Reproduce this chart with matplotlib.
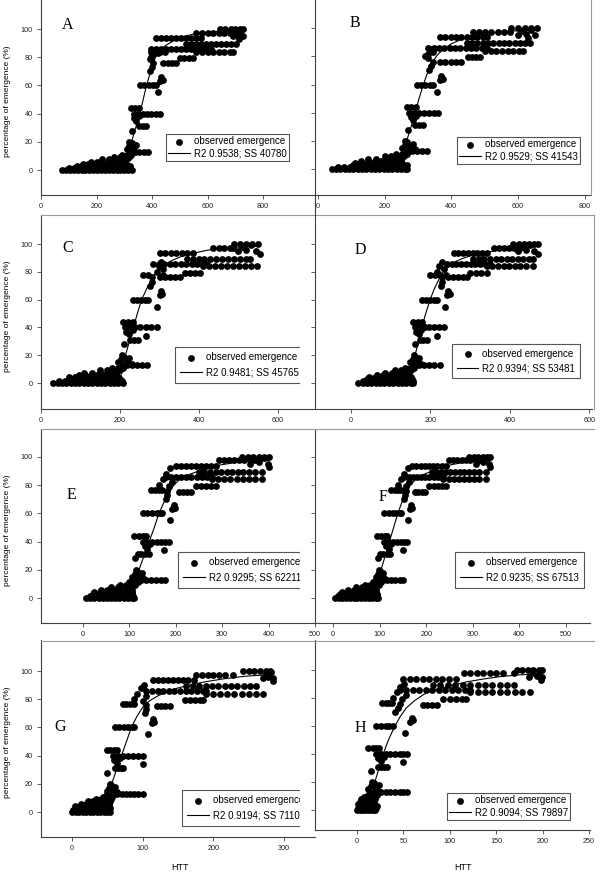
import matplotlib.pyplot as plt
from matplotlib.patches import Rectangle
from matplotlib.lines import Line2D

plt.rcParams['font.family'] = ['Liberation Sans', 'DejaVu Sans']

# ---------------- data ----------------
# each row: (percentage of emergence, [HTT of the dots on that level])

A_rows = [
    (0, [76, 90, 104, 118, 132, 146, 160, 174, 188, 202, 216, 230, 244, 258, 272, 286, 300, 314, 326]),
    (1.5, [100, 120, 140, 160, 180, 200, 220, 240, 260, 280, 300, 320]),
    (3, [130, 148, 166, 184, 202, 220, 238, 256, 274, 292, 310, 322]),
    (4.5, [150, 170, 190, 210, 230, 250, 270, 290, 305]),
    (6, [180, 200, 220, 240, 260, 280, 300]),
    (7.5, [220, 245, 270, 290, 308]),
    (9.5, [262, 285, 305, 318]),
    (11, [290, 310, 325]),
    (13, [322, 338, 354, 370, 386]),
    (31, [352, 366, 380]),
    (40, [334, 350, 366, 382, 398, 414, 428]),
    (44, [324, 340, 352]),
    (60, [356, 372, 388, 404, 416]),
    (76, [440, 456, 472, 488]),
    (79.5, [500, 516, 532, 548]),
    (84, [398, 414, 430, 446, 560, 580, 600, 620, 640, 660, 680, 692]),
    (86, [398, 416, 434, 452, 470, 488, 506, 524, 542, 560, 578, 596, 614]),
    (89.5, [524, 542, 560, 578, 596, 614, 632, 650, 668, 686, 704]),
    (93.5, [416, 434, 452, 470, 488, 506, 524, 542, 560, 578]),
    (97.5, [560, 580, 600, 620, 640, 660, 680]),
    (100, [644, 664, 684, 700, 716, 728]),
]
A_pts = [(310, 15), (318, 17), (326, 19), (334, 16), (342, 18), (318, 20), (330, 14), (326, 28),
         (336, 37), (344, 35), (352, 38), (422, 55), (428, 63), (432, 66), (440, 64), (394, 70),
         (400, 73), (404, 76), (392, 79), (398, 80), (404, 82), (410, 85), (420, 83),
         (690, 95), (700, 98), (710, 96), (720, 99), (728, 95), (712, 93)]
A_fit_x = [305, 315, 326, 341, 356, 368, 380, 395, 410, 428, 450, 480, 510, 550, 600, 650, 730]
A_fit_y = [2, 10, 20, 30, 40, 50, 60, 70, 79, 85, 88.5, 92, 94.5, 96.5, 97.8, 98.6, 99]

B_rows = [
    (0, [41, 54, 67, 80, 93, 106, 119, 132, 145, 158, 171, 184, 197, 210, 223, 236, 249, 262, 268]),
    (1.5, [60, 78, 96, 114, 132, 150, 168, 186, 204, 222, 240, 258]),
    (3, [106, 122, 138, 154, 170, 186, 202, 218, 234, 250, 266]),
    (4.5, [110, 128, 146, 164, 182, 200, 218, 236, 252]),
    (6, [130, 150, 170, 190, 210, 230, 250]),
    (7.5, [150, 175, 200, 225, 250]),
    (9.5, [200, 220, 240, 258]),
    (11, [235, 252, 268]),
    (13, [266, 281, 296, 311, 326]),
    (31, [292, 304, 316]),
    (40, [272, 287, 302, 317, 332, 347, 361]),
    (44, [266, 280, 294]),
    (60, [296, 309, 322, 335, 346]),
    (76, [366, 382, 398, 414, 430]),
    (79.5, [451, 463, 475, 487]),
    (84, [501, 518, 535, 552, 569, 586, 603, 616]),
    (86, [331, 347, 363, 379, 395, 411, 427, 443, 459, 475, 491, 506]),
    (89.5, [446, 462, 478, 494, 510, 526, 542, 558, 574, 590, 606, 622, 636]),
    (93.5, [366, 382, 398, 414, 430, 446, 462, 478, 494, 506]),
    (97.5, [466, 484, 502, 520, 540, 558, 576]),
    (100, [580, 600, 620, 640, 656]),
]
B_pts = [(252, 15), (260, 17), (268, 19), (276, 16), (284, 18), (262, 20), (290, 14), (271, 28),
         (278, 37), (286, 35), (294, 38), (356, 55), (366, 63), (370, 66), (376, 64), (334, 70),
         (340, 73), (344, 76), (330, 79), (322, 80), (330, 82), (336, 85), (346, 83),
         (600, 95), (612, 98), (625, 96), (638, 99), (650, 95), (630, 93)]
B_fit_x = [250, 258, 266, 279, 291, 303, 316, 328, 341, 358, 376, 400, 430, 470, 520, 580, 645]
B_fit_y = [2, 10, 20, 30, 40, 50, 60, 68, 75, 81, 85, 89, 92, 94.5, 96.5, 98, 98.7]

C_rows = [
    (0, [31, 42, 53, 64, 75, 86, 97, 108, 119, 130, 141, 152, 163, 174, 185, 196, 208]),
    (1.5, [45, 61, 77, 93, 109, 125, 141, 157, 173, 189, 205]),
    (3, [82, 95, 108, 121, 134, 147, 160, 173, 186, 200]),
    (4.5, [70, 86, 102, 118, 134, 150, 166, 182, 196]),
    (6, [95, 111, 127, 143, 159, 175, 190]),
    (7.5, [110, 130, 150, 170, 190]),
    (9.5, [150, 168, 186, 200]),
    (11, [180, 195, 208]),
    (13, [204, 217, 230, 243, 256, 268]),
    (31, [226, 236, 246]),
    (40, [213, 226, 239, 252, 265, 279, 293]),
    (44, [208, 221, 234]),
    (60, [234, 244, 254, 264, 272]),
    (76, [301, 314, 327, 340, 352]),
    (79.5, [365, 377, 389, 402]),
    (84, [411, 426, 441, 456, 471, 486, 501, 516, 531, 546]),
    (86, [284, 298, 312, 326, 340, 354, 368, 382, 396, 410, 419]),
    (89.5, [369, 384, 399, 414, 429, 444, 459, 474, 489, 504, 519, 529]),
    (93.5, [301, 315, 329, 343, 357, 371, 386]),
    (97.5, [436, 450, 464, 478, 487]),
    (100, [490, 505, 520, 535, 550]),
]
C_pts = [(196, 15), (203, 17), (210, 19), (217, 16), (224, 18), (206, 20), (230, 14), (210, 28),
         (216, 37), (224, 35), (232, 38), (266, 34), (293, 55), (301, 63), (303, 66), (306, 64),
         (276, 70), (280, 73), (282, 76), (259, 78), (272, 78), (293, 80), (298, 84), (303, 87),
         (308, 82), (310, 78), (500, 95), (510, 98), (520, 96), (532, 99), (545, 95), (554, 93)]
C_fit_x = [200, 206, 213, 224, 234, 244, 255, 268, 281, 293, 310, 330, 355, 380, 420, 460, 510, 555]
C_fit_y = [2, 10, 19, 30, 40, 50, 60, 68, 75, 80, 84.5, 88, 91, 93, 95.5, 97, 98, 98.5]

D_rows = [
    (0, [18, 29, 40, 51, 62, 73, 84, 95, 106, 117, 128, 139, 150, 157]),
    (1.5, [30, 46, 62, 78, 94, 110, 126, 142, 155]),
    (3, [39, 52, 65, 78, 91, 104, 117, 130, 143, 153]),
    (4.5, [45, 60, 75, 90, 105, 120, 135, 150]),
    (6, [65, 81, 97, 113, 129, 145]),
    (7.5, [85, 103, 121, 139]),
    (9.5, [110, 125, 140, 152]),
    (11, [135, 148, 158]),
    (13, [157, 170, 183, 196, 210, 224]),
    (31, [174, 182, 190]),
    (40, [161, 173, 185, 197, 209, 221, 233]),
    (44, [157, 168, 178]),
    (60, [178, 188, 198, 208, 216]),
    (76, [245, 257, 269, 281, 291]),
    (79.5, [300, 314, 328, 342]),
    (84, [342, 356, 370, 384, 398, 412, 426, 440, 459]),
    (86, [241, 253, 265, 277, 289, 301, 313, 325, 337, 350]),
    (89.5, [308, 322, 336, 350, 364, 378, 392, 406, 420, 434, 448, 459]),
    (93.5, [258, 270, 282, 294, 306, 318, 330, 342]),
    (97.5, [359, 372, 385, 398, 411, 426]),
    (100, [409, 422, 435, 448, 460, 472]),
]
D_pts = [(149, 15), (155, 17), (161, 19), (167, 16), (172, 18), (158, 20), (176, 14), (160, 28),
         (164, 37), (170, 35), (176, 38), (216, 34), (237, 55), (241, 63), (244, 66), (248, 64),
         (226, 70), (228, 73), (230, 76), (199, 78), (212, 78), (224, 78), (216, 80), (222, 84),
         (228, 87), (234, 82), (240, 78), (420, 95), (430, 98), (440, 96), (450, 99), (462, 95), (470, 93)]
D_fit_x = [148, 154, 161, 170, 178, 188, 199, 210, 222, 233, 246, 260, 280, 300, 330, 360, 400, 440, 472]
D_fit_y = [2, 10, 20, 30, 40, 50, 60, 68, 75, 80, 84, 87, 89.5, 91.5, 93.5, 95, 96.5, 97.7, 98.3]

E_rows = [
    (0, [7, 16, 25, 34, 43, 52, 61, 70, 79, 88, 97, 106, 111]),
    (1.5, [15, 27, 39, 51, 63, 75, 87, 99, 108]),
    (3, [21, 32, 43, 54, 65, 76, 87, 98, 107]),
    (4.5, [25, 37, 49, 61, 73, 85, 97, 105]),
    (6, [40, 53, 66, 79, 92, 105]),
    (7.5, [60, 75, 90, 104]),
    (9.5, [80, 92, 104, 112]),
    (11, [100, 110, 118]),
    (12.5, [114, 125, 136, 147, 158, 169, 178]),
    (31, [118, 126, 134, 143]),
    (40, [129, 139, 149, 159, 169, 178, 186]),
    (44, [111, 120, 129, 136]),
    (60, [129, 139, 149, 159, 167, 171]),
    (76.5, [146, 155, 164, 171]),
    (75, [207, 215, 224, 232]),
    (79.5, [243, 254, 265, 276, 286]),
    (84, [279, 292, 305, 318, 331, 344, 357, 370, 386]),
    (86, [179, 190, 201, 212, 223, 234, 245, 256, 267, 279]),
    (89.5, [250, 262, 274, 286, 298, 310, 322, 334, 346, 358, 370, 386]),
    (93.5, [200, 211, 222, 233, 244, 255, 266, 277, 286]),
    (97.5, [293, 304, 315, 326, 337, 348, 364]),
    (100, [343, 355, 367, 379, 390, 400]),
]
E_pts = [(107, 15), (112, 17), (117, 19), (122, 16), (127, 18), (114, 20), (129, 14), (120, 12), (113, 28),
         (133, 37), (139, 35), (145, 38), (175, 34), (187, 55), (193, 63), (196, 66), (199, 64),
         (179, 70), (181, 73), (182, 76), (164, 80), (172, 84), (180, 88), (188, 92), (193, 82),
         (185, 79), (360, 95), (370, 98), (380, 96), (390, 99), (398, 95), (400, 93)]
E_fit_x = [108, 114, 121, 132, 143, 154, 164, 175, 187, 196, 207, 225, 250, 275, 300, 330, 365, 400]
E_fit_y = [2, 10, 20, 30, 40, 50, 60, 68, 75, 80, 83.5, 87, 90, 92.5, 94.5, 96, 97, 97.5]

F_rows = [
    (0, [4, 12, 20, 28, 36, 44, 52, 60, 68, 76, 84, 92, 97]),
    (1.5, [10, 21, 32, 43, 54, 65, 76, 87, 95]),
    (3, [15, 25, 35, 45, 55, 65, 75, 85, 94]),
    (4.5, [20, 31, 42, 53, 64, 75, 86, 93]),
    (6, [32, 44, 56, 68, 80, 92]),
    (7.5, [50, 63, 76, 90]),
    (9.5, [68, 79, 90, 98]),
    (11, [86, 95, 102]),
    (12.5, [98, 107, 116, 125, 134, 143, 151]),
    (31, [101, 108, 115, 122]),
    (40, [110, 119, 128, 137, 146, 153, 159]),
    (44, [95, 103, 111, 116]),
    (60, [110, 119, 128, 136, 143, 146]),
    (76.5, [124, 132, 140, 146]),
    (75, [176, 183, 190, 197]),
    (79.5, [207, 216, 225, 234, 243]),
    (84, [237, 248, 259, 270, 281, 292, 303, 314, 328]),
    (86, [153, 162, 171, 180, 189, 198, 207, 216, 225, 237]),
    (89.5, [212, 222, 232, 242, 252, 262, 272, 282, 292, 302, 314, 328]),
    (93.5, [170, 179, 188, 197, 206, 215, 224, 233, 243]),
    (97.5, [249, 258, 267, 276, 285, 294, 308]),
    (100, [292, 302, 312, 322, 330, 338]),
]
F_pts = [(92, 15), (96, 17), (100, 19), (104, 16), (108, 18), (98, 20), (110, 14), (102, 12), (97, 28),
         (114, 37), (119, 35), (124, 38), (150, 34), (160, 55), (165, 63), (168, 66), (170, 64),
         (153, 70), (155, 73), (156, 76), (140, 80), (146, 84), (153, 88), (160, 92), (164, 82),
         (157, 79), (306, 95), (314, 98), (322, 96), (330, 99), (336, 95), (338, 93)]
F_fit_x = [90, 96, 103, 112, 121, 130, 139, 148, 158, 166, 176, 191, 212, 233, 255, 280, 310, 338]
F_fit_y = [2, 10, 20, 30, 40, 50, 60, 68, 75, 80, 83.5, 87, 90, 92.5, 94.5, 96, 97, 97.5]

G_rows = [
    (0, [0, 5, 10, 15, 20, 25, 30, 35, 40, 45, 50, 54]),
    (1.5, [2, 9, 16, 23, 30, 37, 44, 51]),
    (3, [6, 12, 18, 24, 30, 36, 42, 48, 54]),
    (4.5, [4, 11, 18, 25, 32, 39, 46, 52]),
    (6, [12, 20, 28, 36, 44, 52]),
    (7.5, [22, 30, 38, 46, 54]),
    (9.5, [34, 41, 48, 55]),
    (11, [44, 50, 57]),
    (12.5, [58, 64, 70, 76, 82, 88, 94, 101]),
    (31, [61, 65, 69, 72]),
    (40, [58, 65, 72, 79, 86, 93, 101]),
    (44, [49, 54, 59, 63]),
    (60, [61, 67, 73, 79, 85, 88]),
    (76.5, [72, 77, 82, 87]),
    (75, [120, 126, 132, 139]),
    (79.5, [160, 167, 174, 181, 186]),
    (84, [190, 200, 210, 220, 230, 240, 250, 260, 270]),
    (86, [105, 113, 121, 129, 137, 145, 153, 161, 169, 177, 185, 190]),
    (89.5, [162, 171, 180, 189, 198, 207, 216, 225, 234, 243, 252, 261]),
    (93.5, [115, 122, 129, 136, 143, 150, 157, 164, 172]),
    (97.5, [176, 184, 192, 200, 208, 216, 228]),
    (100, [242, 250, 258, 266, 274, 280]),
]
G_pts = [(49, 15), (52, 17), (55, 19), (58, 16), (61, 18), (54, 20), (63, 14), (57, 12), (50, 13), (50, 28),
         (60, 37), (64, 35), (68, 38), (101, 34), (108, 55), (113, 63), (115, 66), (116, 64),
         (103, 70), (104, 73), (105, 76), (87, 80), (92, 84), (97, 88), (102, 90), (105, 82),
         (100, 79), (270, 95), (274, 98), (278, 96), (282, 99), (284, 95), (285, 93)]
G_fit_x = [47, 51, 56, 63, 70, 77, 84, 92, 101, 110, 122, 135, 150, 170, 190, 215, 245, 282]
G_fit_y = [2, 10, 20, 30, 40, 50, 60, 68, 75, 79, 82.5, 85.5, 88, 90.5, 92.5, 94.5, 96.3, 97.5]

H_rows = [
    (0, [0, 3, 6, 9, 12, 15, 18, 20]),
    (1.5, [1, 5, 9, 13, 17, 21]),
    (3, [2, 6, 10, 14, 18, 22]),
    (4.5, [1, 5, 9, 13, 17]),
    (6, [3, 8, 13, 18]),
    (7.5, [5, 10, 15, 20]),
    (9.5, [8, 13, 18]),
    (11, [12, 17, 22]),
    (12.5, [21, 26, 31, 36, 41, 46, 50, 54]),
    (31, [23, 26, 29, 32]),
    (40, [21, 26, 31, 36, 41, 46, 50, 54]),
    (44, [12, 17, 21, 24]),
    (60, [21, 26, 31, 35, 39]),
    (76.5, [27, 31, 35, 38]),
    (75, [71, 76, 81, 86]),
    (79.5, [93, 100, 107, 113, 118]),
    (84, [122, 130, 138, 146, 154, 162, 170, 178, 186]),
    (86, [46, 53, 60, 67, 74, 81, 88, 95, 102, 109, 116, 122]),
    (89.5, [82, 90, 98, 106, 114, 122, 130, 138, 146, 154, 162, 169]),
    (93.5, [50, 57, 64, 71, 78, 85, 92, 99, 107]),
    (97.5, [115, 122, 129, 136, 143, 150, 157, 169]),
    (100, [172, 178, 184, 190, 196, 199]),
]
H_pts = [(12, 15), (15, 17), (18, 19), (21, 16), (24, 18), (16, 20), (22, 14), (19, 12), (14, 13), (15, 28),
         (23, 37), (26, 35), (29, 38), (50, 34), (52, 55), (57, 63), (59, 66), (61, 64),
         (41, 70), (44, 73), (46, 76), (39, 80), (43, 84), (47, 88), (51, 90), (53, 82),
         (49, 79), (185, 95), (190, 98), (194, 96), (197, 99), (199, 95), (198, 93)]
H_fit_x = [15, 17, 19.4, 24, 28.4, 34, 41, 47, 53.5, 62, 72, 82, 100, 118, 136, 154, 175, 197]
H_fit_y = [2, 10, 20, 30, 40, 50, 60, 67, 73, 78, 82.5, 85.7, 88.5, 91.5, 93.5, 95.2, 96.5, 97.3]

fit_labels = ["R2 0.9538; SS 40780", "R2 0.9529; SS 41543", "R2 0.9481; SS 45765",
              "R2 0.9394; SS 53481", "R2 0.9295; SS 62211", "R2 0.9235; SS 67513",
              "R2 0.9194; SS 71100", "R2 0.9094; SS 79897"]

# ---------------- layout (pixels of the 600x872 picture) ----------------
W, H = 600, 872
fig = plt.figure(figsize=(W / 100, H / 100), dpi=100)

# letter, rows, pts, fit, box (l, t, r, b), xlim, ylim, xticks, legend (l, t), legend spacing, letter xy, right col
panels = [
    ("A", A_rows, A_pts, A_fit_x, A_fit_y, (41, 0, 315, 195), (0, 987), (-17.7, 120.6),
     [0, 200, 400, 600, 800], (166, 134), 0.2, (68, 25), False),
    ("B", B_rows, B_pts, B_fit_x, B_fit_y, (315, 0, 590, 195), (-9, 816), (-18.3, 120),
     [0, 200, 400, 600, 800], (457, 137), 0.2, (355, 23), True),
    ("C", C_rows, C_pts, C_fit_x, C_fit_y, (41, 215, 315, 409), (0, 694), (-18.7, 120.9),
     [0, 200, 400, 600], (175, 347), 0.5, (68, 248), False),
    ("D", D_rows, D_pts, D_fit_x, D_fit_y, (315, 215, 592, 409), (-91, 607), (-18.7, 120.9),
     [0, 200, 400, 600], (452, 344), 0.45, (360, 250), True),
    ("E", E_rows, E_pts, E_fit_x, E_fit_y, (41, 430, 315, 623), (-90, 496), (-17.7, 119),
     [0, 100, 200, 300, 400, 500], (178, 552), 0.5, (71, 495), False),
    ("F", F_rows, F_pts, F_fit_x, F_fit_y, (315, 430, 590, 623), (-39, 552), (-17.7, 119),
     [0, 100, 200, 300, 400, 500], (455, 552), 0.5, (383, 497), True),
    ("G", G_rows, G_pts, G_fit_x, G_fit_y, (41, 640, 315, 837), (-44, 344), (-17.7, 122),
     [0, 100, 200, 300], (182, 790), 0.5, (60, 727), False),
    ("H", H_rows, H_pts, H_fit_x, H_fit_y, (315, 640, 590, 830), (-45, 251), (-14.3, 121.4),
     [0, 50, 100, 150, 200, 250], (447, 793), 0.2, (360, 728), True),
]

spine_col = '#404040'

for i, (letter, rows, pts, fx, fy, box, xlim, ylim, xt, lg, sp, lpos, right) in enumerate(panels):
    l, t, r, b = box
    ax = fig.add_axes([l / W, 1 - b / H, (r - l) / W, (b - t) / H], zorder=2 if right else 0)
    xs = [x for y, row in rows for x in row] + [p[0] for p in pts]
    ys = [y for y, row in rows for x in row] + [p[1] for p in pts]
    ax.scatter(xs, ys, s=24, c='black', linewidths=0, label='observed emergence', zorder=3, clip_on=False)
    ax.plot(fx, fy, color='black', lw=0.8, label=fit_labels[i], zorder=4)
    ax.set_xlim(*xlim)
    ax.set_ylim(*ylim)
    ax.set_xticks(xt)
    ax.set_yticks([0, 20, 40, 60, 80, 100])
    for s in ('top', 'right'):
        ax.spines[s].set_visible(False)
    for s in ('left', 'bottom'):
        ax.spines[s].set_color(spine_col)
        ax.spines[s].set_linewidth(0.8)
    ax.tick_params(direction='out', length=3, width=0.6, colors=spine_col, labelsize=5.2,
                   labelcolor='#222222', pad=3, labelleft=not right)
    fig.text(lpos[0] / W, 1 - lpos[1] / H, letter, family='Liberation Serif', fontsize=11.5,
             ha='center', va='center')
    leg = ax.legend(loc='upper left', bbox_to_anchor=(lg[0] / W, 1 - lg[1] / H),
                    bbox_transform=fig.transFigure, fontsize=7, frameon=True, fancybox=False,
                    edgecolor='#555555', framealpha=1, handlelength=2.2, handletextpad=0.4,
                    borderpad=sp + 0.05, labelspacing=sp, borderaxespad=0, scatterpoints=1)
    leg.get_frame().set_linewidth(0.8)
    if right:
        # the right picture lies over the left one from x = 300
        fig.patches.append(Rectangle((300 / W, 1 - (b - 2) / H), 15 / W, (b - 2 - t) / H,
                                     transform=fig.transFigure, facecolor='white',
                                     edgecolor='none', zorder=1))
    else:
        fig.text(8 / W, 1 - (t + (b - t) * 0.52) / H, 'percentage of emergence (%)',
                 rotation=90, ha='center', va='center', fontsize=6)

fig.text(180 / W, 1 - 867 / H, 'HTT', ha='center', va='center', fontsize=6.5)
fig.text(463 / W, 1 - 867 / H, 'HTT', ha='center', va='center', fontsize=6.5)

# frames of the pasted pictures
frame = '#9a9a9a'
for y in (215.5, 429, 641):
    fig.add_artist(Line2D([41 / W, 594 / W], [1 - y / H, 1 - y / H], color=frame, lw=0.8, zorder=5))
fig.add_artist(Line2D([591 / W, 591 / W], [1 - 0 / H, 1 - 195 / H], color=frame, lw=0.8, zorder=5))
fig.add_artist(Line2D([594 / W, 594 / W], [1 - 215 / H, 1 - 409 / H], color=frame, lw=0.8, zorder=5))
fig.add_artist(Line2D([315 / W, 315 / W], [1 - 195 / H, 1 - 215 / H], color=spine_col, lw=0.8, zorder=5))

fig.savefig('out.png', dpi=100)
